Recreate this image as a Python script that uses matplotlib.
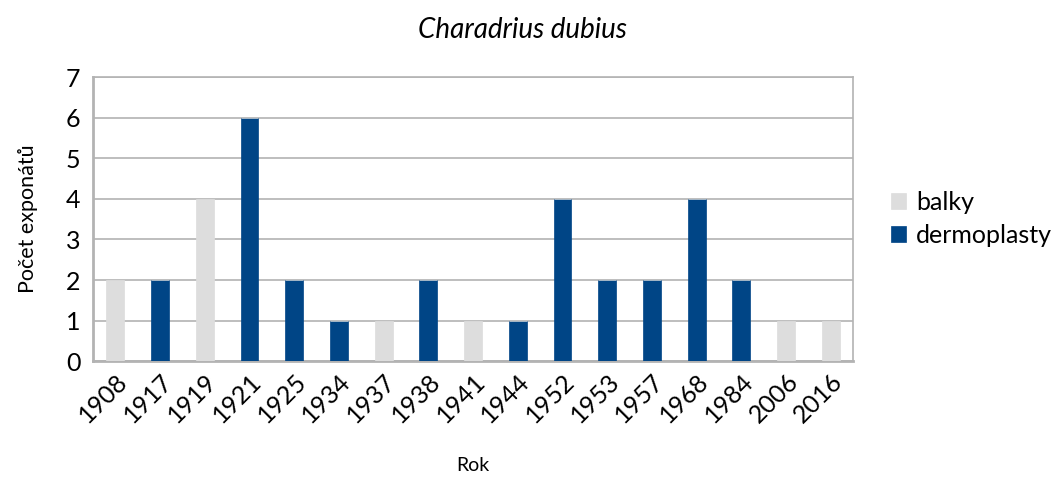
import numpy as np
import matplotlib
matplotlib.use('Agg')
from matplotlib import pyplot as plt

plt.rcParams['font.family'] = ['Lato', 'DejaVu Sans']

roky = ['1908', '1917', '1919', '1921', '1925', '1934', '1937', '1938', '1941',
        '1944', '1952', '1953', '1957', '1968', '1984', '2006', '2016']
balky = [2, 0, 4, 0, 0, 0, 1, 0, 1, 0, 0, 0, 0, 0, 0, 1, 1]
dermoplasty = [0, 2, 0, 6, 2, 1, 0, 2, 0, 1, 4, 2, 2, 4, 2, 0, 0]

c_balky = '#dddddd'
c_derm = '#004586'
c_grid = '#b3b3b3'

fig = plt.figure(figsize=(10.52, 4.79), dpi=100)
ax = fig.add_axes([0.0884, 0.246, 0.7226, 0.593])

x = np.arange(len(roky))
w = 0.4
ax.bar(x, dermoplasty, w, color=c_derm, edgecolor=c_derm, linewidth=0.5,
       label='dermoplasty', zorder=3)
ax.bar(x, balky, w, bottom=dermoplasty, color=c_balky, edgecolor=c_balky,
       linewidth=0.5, label='balky', zorder=3)

ax.set_xlim(-0.5, len(roky) - 0.5)
ax.set_ylim(0, 7)
ax.set_yticks(range(8))
ax.yaxis.grid(True, color=c_grid, linewidth=1.2, zorder=0)
ax.set_xticks(x)
ax.set_xticklabels(roky, rotation=45, ha='right', rotation_mode='anchor', fontsize=18)
ax.tick_params(axis='y', labelsize=18, length=0, pad=9)
ax.tick_params(axis='x', length=0, pad=6)
for s in ax.spines.values():
    s.set_color(c_grid)
    s.set_linewidth(1.2)
ax.spines['left'].set_linewidth(2)
ax.spines['bottom'].set_linewidth(2)

ax.set_ylabel('Počet exponátů', fontsize=15.5, labelpad=20)
ax.set_xlabel('Rok', fontsize=14, labelpad=22)
fig.text(0.497, 0.937, 'Charadrius dubius', ha='center', va='center',
         fontsize=20, style='italic')

h, l = ax.get_legend_handles_labels()
ax.legend(h[::-1], l[::-1], loc='center left', bbox_to_anchor=(1.02, 0.5),
          frameon=False, fontsize=18, handlelength=0.6, handleheight=0.6,
          handletextpad=0.4, labelspacing=0.4)

fig.savefig('out.png', dpi=100)
